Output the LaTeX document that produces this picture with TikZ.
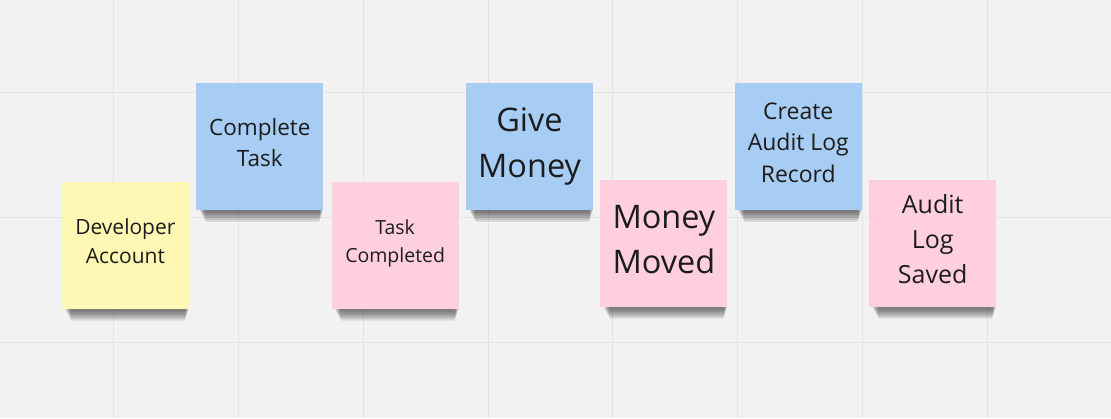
\documentclass[tikz,border=0pt]{standalone}
\usepackage{fontspec}
\setmainfont{Open Sans}
\usetikzlibrary{backgrounds}

\definecolor{board}{HTML}{F2F2F2}
\definecolor{gridcol}{HTML}{E3E3E3}
\definecolor{inktext}{HTML}{1C1C1C}
\definecolor{noteyellow}{HTML}{FFF7B3}
\definecolor{noteblue}{HTML}{A8CDF4}
\definecolor{notepink}{HTML}{FFCFE0}

\tikzset{
  note/.style={minimum width=127pt, minimum height=127pt, inner sep=0pt,
    align=center, text=inktext, text depth=8pt},
  yellownote/.style={note, fill=noteyellow},
  bluenote/.style={note, fill=noteblue},
  pinknote/.style={note, fill=notepink},
  gridline/.style={gridcol, line width=1pt}
}

\begin{document}
\begin{tikzpicture}[x=1pt, y=-1pt]

\begin{pgfonlayer}{background}
\fill[board] (0,0) rectangle (1111,418);
\foreach \x in {113,238,...,988} \draw[gridline] (\x,0) -- (\x,418);
\foreach \y in {92,217,342} \draw[gridline] (0,\y) -- (1111,\y);
\end{pgfonlayer}

\node[yellownote, font=\fontsize{21}{29}\selectfont] (dev) at (125,245) {Developer\\Account};
\node[bluenote, font=\fontsize{22.5}{31}\selectfont] (complete) at (259.5,146) {Complete\\Task};
\node[pinknote, font=\fontsize{19.5}{28}\selectfont] (completed) at (395,245) {Task\\Completed};
\node[bluenote, font=\fontsize{32.5}{45.5}\selectfont] (give) at (529.5,146) {Give\\Money};
\node[pinknote, font=\fontsize{32.5}{45}\selectfont] (moved) at (664,243) {Money\\Moved};
\node[bluenote, font=\fontsize{23}{31.5}\selectfont] (create) at (798.5,146) {Create\\Audit Log\\Record};
\node[pinknote, font=\fontsize{25}{35}\selectfont] (saved) at (933,243) {Audit\\Log\\Saved};

% soft shadows under the notes
\begin{pgfonlayer}{background}
\foreach \n in {dev,complete,completed,give,moved,create,saved}
  \foreach \d in {1,...,6}
    \fill[black, opacity=0.1, rounded corners=2pt]
      ([xshift={3pt+\d*1pt}, yshift=2pt]\n.south west) rectangle
      ([xshift={-\d*0.6pt}, yshift={-1pt-\d*1.8pt}]\n.south east);
\end{pgfonlayer}

\end{tikzpicture}
\end{document}
